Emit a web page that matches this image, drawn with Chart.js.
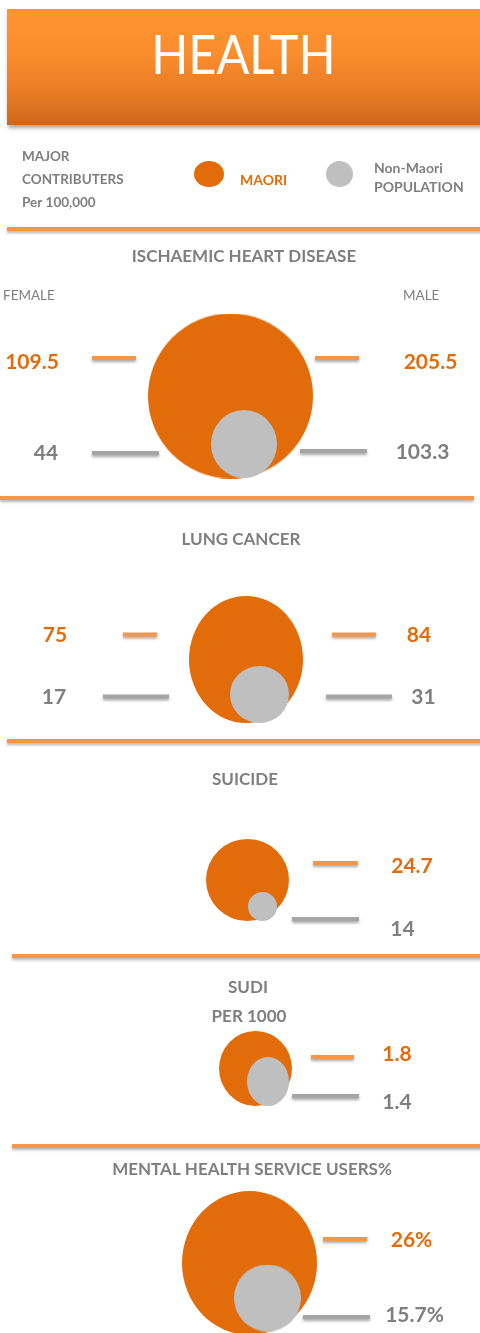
<!DOCTYPE html>
<html>
<head>
<meta charset="utf-8">
<script src="https://cdn.jsdelivr.net/npm/chart.js@4.4.1/dist/chart.umd.min.js"></script>
<style>
html,body{margin:0;padding:0;background:#fff;}
#wrap{position:relative;width:480px;height:1333px;overflow:hidden;background:#fff;}
#header{position:absolute;left:7px;top:9px;width:480px;height:116px;
  background:linear-gradient(180deg,#FF9532 0%,#F98C2C 40%,#E87C25 72%,#CC681C 100%);
  box-shadow:1px 3px 4px rgba(0,0,0,0.35);}
#header .t{position:absolute;left:0;width:473px;top:13px;text-align:center;}
#header .t span{display:inline-block;color:#fff;transform:scaleX(0.9);
  font-family:Lato,"Open Sans",sans-serif;font-weight:400;font-size:54px;line-height:64px;}
.divider{position:absolute;height:4px;background:#F79646;box-shadow:0 2px 3px rgba(0,0,0,0.3);}
canvas{position:absolute;left:0;top:0;}
</style>
</head>
<body>
<div id="wrap">
  <div id="header"><div class="t"><span>HEALTH</span></div></div>
  <div class="divider" style="left:7px;top:227px;width:480px;"></div>
  <div class="divider" style="left:0px;top:496px;width:474px;"></div>
  <div class="divider" style="left:7px;top:739px;width:480px;"></div>
  <div class="divider" style="left:12px;top:954px;width:480px;"></div>
  <div class="divider" style="left:12px;top:1144px;width:480px;"></div>
  <canvas id="c" width="480" height="1333"></canvas>
</div>
<script>
// ---------- DATA ----------
const categories = ['ISCHAEMIC HEART DISEASE', 'LUNG CANCER', 'SUICIDE', 'SUDI', 'MENTAL HEALTH SERVICE USERS%'];
const subtitles = ['', '', '', 'PER 1000', ''];
const maoriFemale = [109.5, 75, null, null, null];
const maoriMale = [205.5, 84, 24.7, 1.8, 26];
const nonMaoriFemale = [44, 17, null, null, null];
const nonMaoriMale = [103.3, 31, 14, 1.4, 15.7];
const valueSuffix = ['', '', '', '', '%'];
const legendLabels = ['MAORI', 'Non-Maori\nPOPULATION'];
const unitLabel = ['MAJOR', 'CONTRIBUTERS', 'Per 100,000'];
const sexLabels = ['FEMALE', 'MALE'];

// ---------- LAYOUT (positions / sizes only) ----------
const layout = [
  { title: [244, 257], sub: null,
    maori: [230.5, 396, 82.5, 82.5], non: [244, 444, 33, 34],
    mF: { line: [92, 136, 358], text: [32, 362] }, mM: { line: [315, 359, 358], text: [430.5, 362] },
    nF: { line: [92, 159, 453], text: [46, 453] }, nM: { line: [300, 367, 451], text: [422.5, 452] } },
  { title: [241, 540], sub: null,
    maori: [246, 659.5, 57, 63.5], non: [259.5, 694.5, 29.5, 28.5],
    mF: { line: [123, 157, 634.5], text: [55, 635] }, mM: { line: [332, 376, 634.5], text: [419, 635] },
    nF: { line: [103, 169, 696.5], text: [54, 697.5] }, nM: { line: [326, 392, 696.5], text: [423.5, 697.5] } },
  { title: [245, 780], sub: null,
    maori: [247.5, 880, 41.5, 41], non: [262.5, 906.5, 14.5, 14.5],
    mF: null, mM: { line: [313, 358, 863], text: [412, 866] },
    nF: null, nM: { line: [292, 359, 919], text: [402.5, 929] } },
  { title: [248, 988], sub: [249, 1017],
    maori: [255.5, 1068.5, 36.5, 37.5], non: [268, 1081.5, 21, 24.5],
    mF: null, mM: { line: [311, 354, 1057], text: [397, 1054] },
    nF: null, nM: { line: [292, 359, 1096], text: [397, 1102] } },
  { title: [252, 1170], sub: null,
    maori: [249.5, 1263, 67.5, 72], non: [267.5, 1298, 33.5, 33.5],
    mF: null, mM: { line: [323, 367, 1239], text: [411.5, 1240] },
    nF: null, nM: { line: [303, 370, 1317], text: [414.5, 1315] } }
];
const legendLayout = { maori: [209, 174, 15, 13], non: [339.5, 174, 13.5, 13],
  maoriText: [240, 180], nonText: [374, 168, 187], unit: [22, 157, 180, 203] };
const sexLayout = { female: [3, 296], male: [403, 296] };

// ---------- STYLE ----------
const ORANGE = '#E36C0A', GRAY = '#BFBFBF', LINE_OR = '#F79646', LINE_GR = '#A5A5A5';
const TXT_GRAY = '#7F7F7F';
const FONT = 'Lato, "Open Sans", sans-serif';

function ellipseImg(rx, ry, color) {
  const c = document.createElement('canvas');
  c.width = Math.round(rx * 2); c.height = Math.round(ry * 2);
  const g = c.getContext('2d');
  g.fillStyle = color;
  g.beginPath(); g.ellipse(c.width / 2, c.height / 2, rx, ry, 0, 0, Math.PI * 2); g.fill();
  return c;
}

const datasets = [];
// lower "order" = drawn on top
function addEllipse(spec, color, order) {
  datasets.push({ type: 'scatter', data: [{ x: spec[0], y: spec[1] }],
    pointStyle: ellipseImg(spec[2], spec[3], color), pointRadius: 5, pointHoverRadius: 5, order });
}
function addLine(spec, color) {
  datasets.push({ type: 'line', data: [{ x: spec[0], y: spec[2] }, { x: spec[1], y: spec[2] }],
    borderColor: color, borderWidth: 4, pointRadius: 0, shadow: true, borderCapStyle: 'butt', order: 1 });
}

const texts = [];
function fmt(v, i) { return String(v) + valueSuffix[i]; }
const TITLE_FONT = 'bold 17px ' + FONT;
const NUM_FONT = 'bold 21px ' + FONT;
const LEG_FONT = 'bold 13.5px ' + FONT;

categories.forEach((cat, i) => {
  const L = layout[i];
  addEllipse(L.maori, ORANGE, 3);
  addEllipse(L.non, GRAY, 2);
  texts.push({ t: cat, x: L.title[0], y: L.title[1], c: TXT_GRAY, f: TITLE_FONT, a: 'center' });
  if (L.sub) texts.push({ t: subtitles[i], x: L.sub[0], y: L.sub[1], c: TXT_GRAY, f: TITLE_FONT, a: 'center' });
  const pairs = [[maoriFemale, L.mF, LINE_OR, ORANGE], [maoriMale, L.mM, LINE_OR, ORANGE],
                 [nonMaoriFemale, L.nF, LINE_GR, TXT_GRAY], [nonMaoriMale, L.nM, LINE_GR, TXT_GRAY]];
  pairs.forEach(([arr, spec, lc, tc]) => {
    if (arr[i] == null || !spec) return;
    addLine(spec.line, lc);
    texts.push({ t: fmt(arr[i], i), x: spec.text[0], y: spec.text[1], c: tc, f: NUM_FONT, a: 'center' });
  });
});
// legend marks
addEllipse(legendLayout.maori, ORANGE, 3);
addEllipse(legendLayout.non, GRAY, 2);
texts.push({ t: legendLabels[0], x: legendLayout.maoriText[0], y: legendLayout.maoriText[1], c: ORANGE, f: 'bold 14px ' + FONT, a: 'left' });
const nl = legendLabels[1].split('\n');
texts.push({ t: nl[0], x: legendLayout.nonText[0], y: legendLayout.nonText[1], c: TXT_GRAY, f: 'bold 14px ' + FONT, a: 'left' });
texts.push({ t: nl[1], x: legendLayout.nonText[0], y: legendLayout.nonText[2], c: TXT_GRAY, f: 'bold 14px ' + FONT, a: 'left' });
unitLabel.forEach((u, k) => texts.push({ t: u, x: legendLayout.unit[0], y: legendLayout.unit[k + 1], c: TXT_GRAY, f: LEG_FONT, a: 'left' }));
texts.push({ t: sexLabels[0], x: sexLayout.female[0], y: sexLayout.female[1], c: TXT_GRAY, f: '13.5px ' + FONT, a: 'left' });
texts.push({ t: sexLabels[1], x: sexLayout.male[0], y: sexLayout.male[1], c: TXT_GRAY, f: '13.5px ' + FONT, a: 'left' });

const shadowPlugin = {
  id: 'shadow',
  beforeDatasetDraw(chart, args) {
    const ds = chart.data.datasets[args.index];
    chart.ctx.save();
    if (ds.shadow) {
      chart.ctx.shadowColor = 'rgba(0,0,0,0.35)';
      chart.ctx.shadowBlur = 3;
      chart.ctx.shadowOffsetY = 2;
      chart.ctx.shadowOffsetX = 0;
    }
  },
  afterDatasetDraw(chart) { chart.ctx.restore(); }
};
const textPlugin = {
  id: 'texts',
  afterDatasetsDraw(chart) {
    const ctx = chart.ctx, xs = chart.scales.x, ys = chart.scales.y;
    ctx.save();
    ctx.textBaseline = 'middle';
    texts.forEach(o => {
      ctx.font = o.f; ctx.fillStyle = o.c; ctx.textAlign = o.a;
      ctx.fillText(o.t, xs.getPixelForValue(o.x), ys.getPixelForValue(o.y));
    });
    ctx.restore();
  }
};

new Chart(document.getElementById('c'), {
  type: 'scatter',
  data: { datasets },
  options: {
    responsive: false, animation: false, devicePixelRatio: 1,
    layout: { padding: 0, autoPadding: false },
    events: [],
    plugins: { legend: { display: false }, tooltip: { enabled: false } },
    scales: {
      x: { type: 'linear', min: 0, max: 480, display: false },
      y: { type: 'linear', min: 0, max: 1333, reverse: true, display: false }
    }
  },
  plugins: [shadowPlugin, textPlugin]
});
</script>
</body>
</html>
